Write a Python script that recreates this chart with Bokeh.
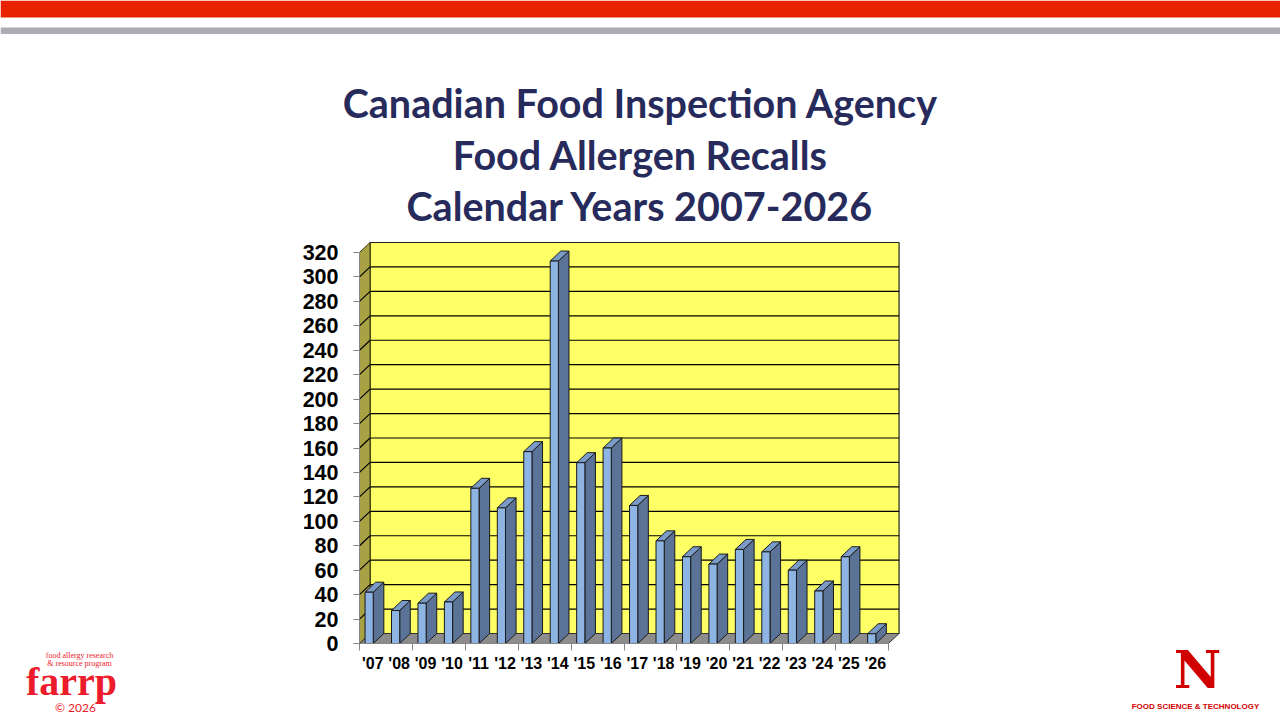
from bokeh.plotting import figure
from bokeh.layouts import column, row
from bokeh.models import Range1d, LinearAxis, FixedTicker
from bokeh.core.properties import value
from bokeh.embed import file_html
from bokeh.resources import INLINE

# ---------------- data ----------------
years = ["'07", "'08", "'09", "'10", "'11", "'12", "'13", "'14", "'15", "'16",
         "'17", "'18", "'19", "'20", "'21", "'22", "'23", "'24", "'25", "'26"]
recalls = [42, 27, 33, 34, 127, 111, 157, 313, 148, 160,
           113, 84, 71, 65, 77, 75, 60, 43, 71, 8]
y_ticks = list(range(0, 321, 20))
title_lines = ["Canadian Food Inspection Agency",
               "Food Allergen Recalls",
               "Calendar Years 2007-2026"]

# ---------------- page geometry ----------------
PW, PH = 1280, 720
TOP_H = 234                  # height of the title strip
LEFT_W, RIGHT_W = 200, 200   # side strips holding the logos
FX0, FX1 = 359, 900          # chart frame left / right (page px)
FY0, FY1 = 241, 643          # chart frame top / bottom (page px)
CAT_PX = 26.45               # px per category
VAL_PX = 391.0 / 320.0       # px per recall
DX = 0.4                     # 3-D depth, category units
DY = 10.0 / VAL_PX           # 3-D depth, value units
BOFF, BW = 0.21, 0.31        # bar offset / width inside a category
YMAX = 320


def pixel_fig(x0, y0, w, h):
    f = figure(width=w, height=h, x_range=Range1d(x0, x0 + w), y_range=Range1d(y0 + h, y0),
               output_backend="svg", toolbar_location=None,
               x_axis_location=None, y_axis_location=None, min_border=0)
    f.outline_line_color = None
    f.grid.visible = False
    return f


# ---------------- title strip ----------------
top = pixel_fig(0, 0, PW, TOP_H)
top.quad(left=[0], right=[PW], top=[0], bottom=[17], fill_color="#E82200", line_color=None)
top.quad(left=[0], right=[PW], top=[27], bottom=[33.5], fill_color="#ADABB3", line_color=None)
top.text(x=[640, 640, 640], y=[102, 154, 205], text=title_lines,
         text_align="center", text_baseline="middle",
         text_font=value("Lato"), text_font_style="bold",
         text_font_size=value("39.5px"), text_color="#272B5C")

# ---------------- chart ----------------
CH = PH - TOP_H
CW = PW - LEFT_W - RIGHT_W
mb_left = FX0 - LEFT_W
mb_right = CW - mb_left - (FX1 - FX0)
mb_top = FY0 - TOP_H
mb_bottom = PH - FY1

n = len(recalls)
x_start = -0.5
x_end = x_start + (FX1 - FX0) / CAT_PX
y_end = (FY1 - FY0) / VAL_PX

p = figure(width=CW, height=CH,
           x_range=Range1d(x_start, x_end), y_range=Range1d(0, y_end),
           output_backend="svg", toolbar_location=None,
           x_axis_location=None, y_axis_location=None,
           min_border_left=mb_left, min_border_right=mb_right,
           min_border_top=mb_top, min_border_bottom=mb_bottom)
p.outline_line_color = None
p.grid.visible = False

xl = x_start
xr = x_start + n

# back wall
p.patch([xl + DX, xr + DX, xr + DX, xl + DX], [DY, DY, YMAX + DY, YMAX + DY],
        fill_color="#FFFF66", line_color="#222222", line_width=1.2)
g_inner = [t for t in y_ticks if 0 < t < YMAX]
p.multi_line([[xl + DX, xr + DX] for t in g_inner], [[t + DY, t + DY] for t in g_inner],
             line_color="black", line_width=1.2)
# left wall
p.patch([xl, xl + DX, xl + DX, xl], [0, DY, YMAX + DY, YMAX],
        fill_color="#A8A245", line_color="#333300", line_width=1)
p.multi_line([[xl, xl + DX] for t in g_inner], [[t, t + DY] for t in g_inner],
             line_color="black", line_width=1.2)
# floor
p.patch([xl, xr, xr + DX, xl + DX], [0, 0, DY, DY],
        fill_color="#8C8C8C", line_color="#333333", line_width=1)

# bars
fx, fy, sxs, sys_, txs, tys = [], [], [], [], [], []
for i, v in enumerate(recalls):
    x1 = i - 0.5 + BOFF
    x2 = x1 + BW
    fx.append([x1, x2, x2, x1]); fy.append([0, 0, v, v])
    sxs.append([x2, x2 + DX, x2 + DX, x2]); sys_.append([0, DY, v + DY, v])
    txs.append([x1, x2, x2 + DX, x1 + DX]); tys.append([v, v, v + DY, v + DY])
p.patches(sxs, sys_, fill_color="#5A7396", line_color="#1A1A1A", line_width=1)
p.patches(txs, tys, fill_color="#7A9BC8", line_color="#1A1A1A", line_width=1)
p.patches(fx, fy, fill_color="#8DB4E3", line_color="#1A1A1A", line_width=1)

# axes
yaxis = LinearAxis(ticker=FixedTicker(ticks=y_ticks, minor_ticks=[]), bounds=(0, YMAX))
yaxis.axis_line_color = "#868686"
yaxis.major_tick_line_color = "#868686"
yaxis.major_tick_out = 6
yaxis.major_tick_in = 0
yaxis.minor_tick_line_color = None
yaxis.major_label_standoff = 15
yaxis.major_label_text_font = "Liberation Sans"
yaxis.major_label_text_font_style = "bold"
yaxis.major_label_text_font_size = "21.5px"
yaxis.major_label_text_color = "black"
p.add_layout(yaxis, "left")

xaxis = LinearAxis(ticker=FixedTicker(ticks=list(range(n)),
                                      minor_ticks=[i - 0.5 for i in range(0, n + 1, 2)]),
                   bounds=(xl, xr))
xaxis.major_label_overrides = {i: years[i] for i in range(n)}
xaxis.axis_line_color = "#868686"
xaxis.major_tick_line_color = None
xaxis.major_tick_out = 0
xaxis.major_tick_in = 0
xaxis.minor_tick_line_color = "#868686"
xaxis.minor_tick_out = 7
xaxis.minor_tick_in = 0
xaxis.major_label_standoff = 4
xaxis.major_label_text_font = "Liberation Sans"
xaxis.major_label_text_font_style = "bold"
xaxis.major_label_text_font_size = "16px"
xaxis.major_label_text_color = "black"
p.add_layout(xaxis, "below")

# ---------------- logos ----------------
RED1 = "#EC1C2C"
left = pixel_fig(0, TOP_H, LEFT_W, CH)
left.text(x=[79, 79], y=[655, 663], text=["food allergy research", "& resource program"],
          text_align="center", text_baseline="middle", text_font=value("Liberation Serif"),
          text_font_size=value("8px"), text_color=RED1)
left.text(x=[71], y=[681], text=["farrp"], text_align="center", text_baseline="middle",
          text_font=value("Liberation Serif"), text_font_style="bold",
          text_font_size=value("40px"), text_color=RED1)
left.text(x=[75], y=[707], text=["© 2026"], text_align="center", text_baseline="middle",
          text_font=value("Lato"), text_font_size=value("12px"), text_color=RED1)

RED2 = "#D00000"
right = pixel_fig(PW - RIGHT_W, TOP_H, RIGHT_W, CH)
right.text(x=[1197], y=[669], text=["N"], text_align="center", text_baseline="middle",
           text_font=value("DejaVu Serif"), text_font_style="bold",
           text_font_size=value("52px"), text_color=RED2)
right.text(x=[1195], y=[706], text=["FOOD SCIENCE & TECHNOLOGY"], text_align="center",
           text_baseline="middle", text_font=value("Liberation Sans"),
           text_font_style="bold", text_font_size=value("8px"), text_color=RED2)

page = column(top, row(column(left), p, column(right), spacing=0), spacing=0)
open("out.html", "w").write(file_html(page, INLINE))
